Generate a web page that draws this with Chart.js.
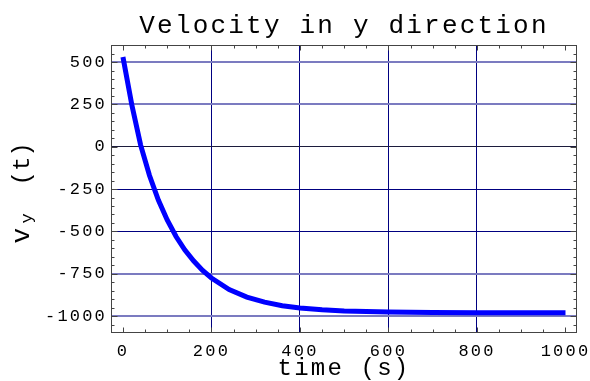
<!DOCTYPE html>
<html>
<head>
<meta charset="utf-8">
<script src="https://cdn.jsdelivr.net/npm/chart.js@4.4.1/dist/chart.umd.min.js"></script>
<style>
  html, body { margin: 0; padding: 0; background: #fff; }
  #wrap { width: 590px; height: 381px; }
</style>
</head>
<body>
<div id="wrap"><canvas id="vy" width="590" height="381"></canvas></div>
<script>
// velocity samples
var timeS = [0, 20, 40, 60, 80, 100, 120, 140, 160, 180, 200, 240, 280, 320, 360, 400, 450, 500, 600, 700, 800, 900, 1000];
var velY = [530, 248, 10, -170, -315, -432, -530, -610, -675, -730, -775, -843, -888, -918, -939, -952, -963, -970, -976, -979, -980, -980, -980];
var xTicks = [0, 200, 400, 600, 800, 1000];
var yTicks = [500, 250, 0, -250, -500, -750, -1000];

var MONO = '"Liberation Mono", "DejaVu Sans Mono", monospace';

var points = timeS.map(function(t, i) { return {x: t, y: velY[i]}; });

// inward ticks on all four sides, the frame and the y label with subscript
var frameTicks = {
    id: 'frameTicks',
    beforeUpdate: function(chart) {
        chart.ctx.letterSpacing = '2.2px';
    },
    afterDraw: function(chart) {
        var ctx = chart.ctx;
        var a = chart.chartArea;
        var xs = chart.scales.x;
        var ys = chart.scales.y;
        var L = Math.round(a.left) + 0.5, R = Math.round(a.right) - 0.5;
        var T = Math.round(a.top) + 0.5, B = Math.round(a.bottom) - 0.5;
        ctx.save();
        ctx.strokeStyle = '#444';
        ctx.lineWidth = 1;
        ctx.beginPath();
        for (var t = 0; t <= 1000; t += 50) {
            var px = Math.round(xs.getPixelForValue(t)) + 0.5;
            var len = t % 200 === 0 ? 5 : 3;
            ctx.moveTo(px, B); ctx.lineTo(px, B - len);
            ctx.moveTo(px, T); ctx.lineTo(px, T + len);
        }
        for (var v = -1050; v <= 550; v += 50) {
            var py = Math.round(ys.getPixelForValue(v)) + 0.5;
            var ln = v % 250 === 0 ? 6 : 3;
            ctx.moveTo(L, py); ctx.lineTo(L + ln, py);
            ctx.moveTo(R, py); ctx.lineTo(R - ln, py);
        }
        ctx.stroke();
        ctx.strokeRect(L, T, R - L, B - T);
        ctx.restore();

        // rotated "v_y (t)"
        ctx.save();
        ctx.translate(0, 193.5);
        ctx.rotate(-Math.PI / 2);
        ctx.letterSpacing = '0px';
        ctx.fillStyle = '#000';
        ctx.textBaseline = 'alphabetic';
        ctx.textAlign = 'left';
        ctx.font = '26px ' + MONO;
        ctx.fillText('v', -50, 29);
        ctx.font = '17px ' + MONO;
        ctx.fillText('y', -30, 32);
        ctx.font = '24px ' + MONO;
        ctx.fillText('(t)', 8, 29);
        ctx.restore();
    }
};

var lightRows = [500, 250, -750, -1000];

new Chart(document.getElementById('vy'), {
    type: 'line',
    data: {
        datasets: [{
            label: 'v_y',
            data: points,
            borderColor: '#0000ff',
            borderWidth: 5,
            borderCapStyle: 'butt',
            pointRadius: 0,
            tension: 0,
            fill: false
        }]
    },
    options: {
        responsive: false,
        animation: false,
        layout: {padding: {left: 0, right: 13, top: 0, bottom: 0}},
        plugins: {
            legend: {display: false},
            tooltip: {enabled: false},
            title: {
                display: true,
                text: 'Velocity in y direction',
                color: '#000',
                fullSize: false,
                font: {family: MONO, size: 26, weight: 'normal', lineHeight: 1.2},
                padding: {top: 11, bottom: 3}
            }
        },
        scales: {
            x: {
                type: 'linear',
                min: -27,
                max: 1026,
                afterBuildTicks: function(s) { s.ticks = xTicks.map(function(v) { return {value: v}; }); },
                afterFit: function(s) { s.height = 48; s.paddingLeft = 0; s.paddingRight = 0; },
                border: {display: false},
                grid: {
                    drawTicks: false,
                    lineWidth: 1,
                    color: function(c) {
                        var v = c.tick ? c.tick.value : null;
                        return (v === 0 || v === 1000) ? 'rgba(0,0,0,0)' : '#000080';
                    }
                },
                ticks: {
                    color: '#000',
                    padding: 8,
                    maxRotation: 0,
                    font: {family: MONO, size: 17},
                    callback: function(v) { return String(v); }
                },
                title: {
                    display: true,
                    text: 'time (s)',
                    color: '#000',
                    font: {family: MONO, size: 24, lineHeight: 1.0},
                    padding: {top: 0, bottom: 0}
                }
            },
            y: {
                type: 'linear',
                min: -1100,
                max: 600,
                afterBuildTicks: function(s) { s.ticks = yTicks.map(function(v) { return {value: v}; }); },
                afterFit: function(s) { s.width = 111; s.paddingTop = 0; s.paddingBottom = 0; },
                border: {display: false},
                grid: {
                    drawTicks: false,
                    lineWidth: function(c) {
                        return c.tick && lightRows.indexOf(c.tick.value) >= 0 ? 2 : 1;
                    },
                    color: function(c) {
                        var v = c.tick ? c.tick.value : null;
                        if (v === 0) return '#1c1c3c';
                        if (lightRows.indexOf(v) >= 0) return '#7b7bc0';
                        return '#000080';
                    }
                },
                ticks: {
                    color: '#000',
                    padding: 4,
                    font: {family: MONO, size: 17},
                    callback: function(v) { return String(v); }
                }
            }
        }
    },
    plugins: [frameTicks]
});
</script>
</body>
</html>
